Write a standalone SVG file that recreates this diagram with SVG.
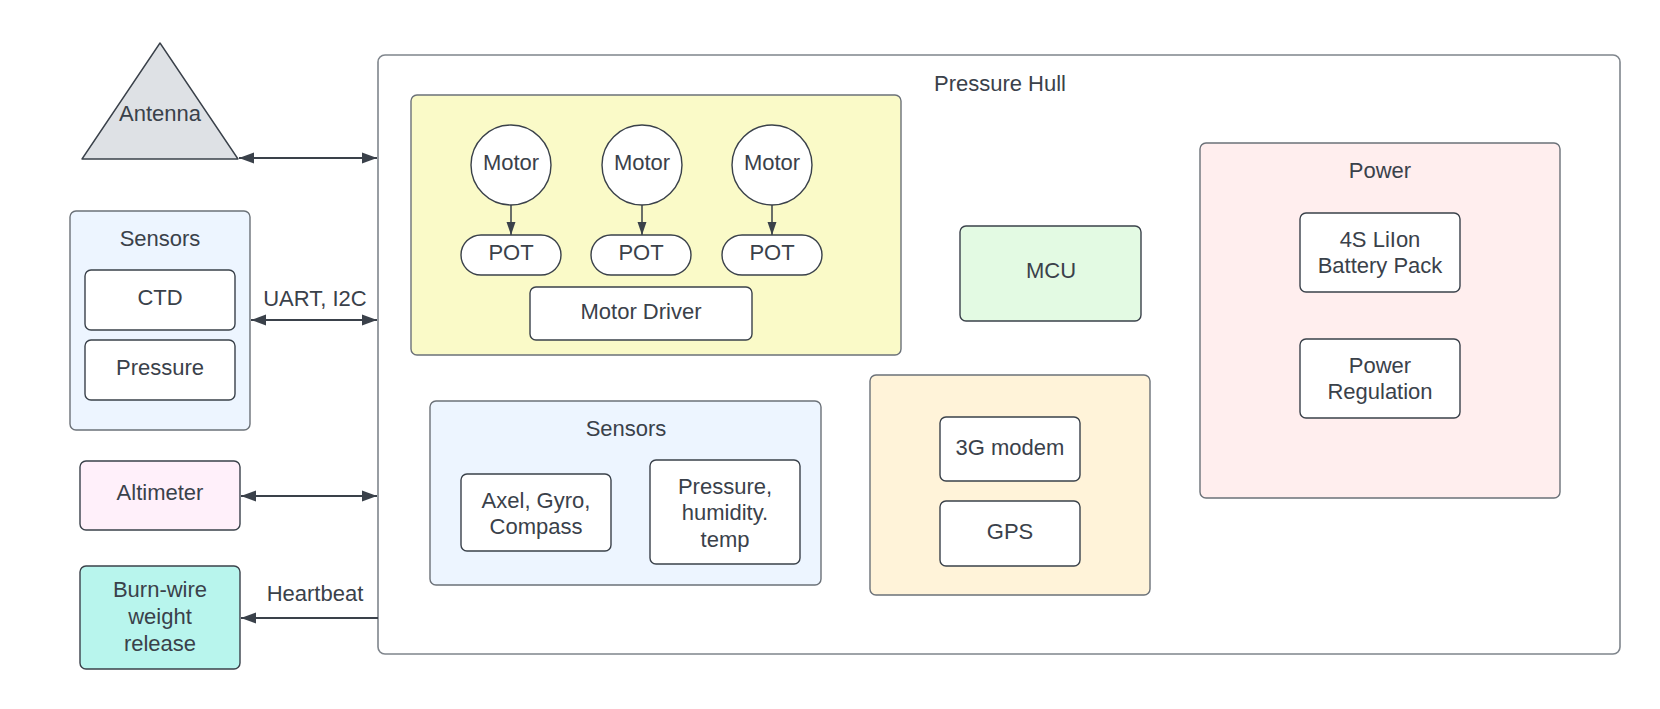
<svg xmlns="http://www.w3.org/2000/svg" width="1660" height="709" viewBox="0 0 1660 709">
<style>
text{font-family:"Liberation Sans",Arial,sans-serif;font-size:22px;fill:#3a414a;text-anchor:middle}
.box{stroke:#3a414a;stroke-width:1.4}
.cont{stroke:#6b7178;stroke-width:1.4}
.inner{fill:#ffffff;stroke:#3a414a;stroke-width:1.4}
.conn{stroke:#3a414a;stroke-width:2;fill:none}
.small{stroke:#3a414a;stroke-width:1.5;fill:none}
</style>
<defs>
<marker id="arr" markerUnits="userSpaceOnUse" markerWidth="16" markerHeight="12" refX="15" refY="5.5" orient="auto-start-reverse" viewBox="0 0 16 11">
<path d="M0,0 L15,5.5 L0,11 Z" fill="#3a414a"/>
</marker>
<marker id="arrs" markerUnits="userSpaceOnUse" markerWidth="14" markerHeight="10" refX="13" refY="4.5" orient="auto" viewBox="0 0 14 9">
<path d="M0,0 L13,4.5 L0,9 Z" fill="#3a414a"/>
</marker>
</defs>
<rect width="1660" height="709" fill="#ffffff"/>

<g id="pressure-hull">
<rect x="378" y="55" width="1242" height="599" rx="7" fill="#ffffff" stroke="#7f858c" stroke-width="1.6"/>
<text x="1000" y="91">Pressure Hull</text>
</g>

<g id="antenna">
<path d="M160,43 L238,159 L82,159 Z" fill="#dee1e5" stroke="#3a414a" stroke-width="1.4" stroke-linejoin="round"/>
<text x="160" y="121">Antenna</text>
</g>

<g id="sensors-ext">
<rect x="70" y="211" width="180" height="219" rx="6" fill="#edf5ff" class="cont"/>
<text x="160" y="246">Sensors</text>
<g id="ctd">
<rect x="85" y="270" width="150" height="60" rx="6" class="inner"/>
<text x="160" y="305">CTD</text>
</g>
<g id="pressure-ext">
<rect x="85" y="340" width="150" height="60" rx="6" class="inner"/>
<text x="160" y="375">Pressure</text>
</g>
</g>

<g id="altimeter">
<rect x="80" y="461" width="160" height="69" rx="6" fill="#fff0fa" class="box"/>
<text x="160" y="500">Altimeter</text>
</g>

<g id="burnwire">
<rect x="80" y="566" width="160" height="103" rx="6" fill="#b8f5ed" class="box"/>
<text x="160" y="597">Burn-wire</text>
<text x="160" y="624">weight</text>
<text x="160" y="651">release</text>
</g>

<g id="motors-group">
<rect x="411" y="95" width="490" height="260" rx="6" fill="#fafac8" class="cont"/>
<g id="motor1"><circle cx="511" cy="165" r="40" fill="#ffffff" stroke="#3a414a" stroke-width="1.4"/><text x="511" y="170">Motor</text></g>
<g id="motor2"><circle cx="642" cy="165" r="40" fill="#ffffff" stroke="#3a414a" stroke-width="1.4"/><text x="642" y="170">Motor</text></g>
<g id="motor3"><circle cx="772" cy="165" r="40" fill="#ffffff" stroke="#3a414a" stroke-width="1.4"/><text x="772" y="170">Motor</text></g>
<g id="pot1"><rect x="461" y="235" width="100" height="40" rx="20" class="inner"/><text x="511" y="260">POT</text></g>
<g id="pot2"><rect x="591" y="235" width="100" height="40" rx="20" class="inner"/><text x="641" y="260">POT</text></g>
<g id="pot3"><rect x="722" y="235" width="100" height="40" rx="20" class="inner"/><text x="772" y="260">POT</text></g>
<g id="motor-driver"><rect x="530" y="287" width="222" height="53" rx="6" class="inner"/><text x="641" y="319">Motor Driver</text></g>
</g>

<g id="mcu">
<rect x="960" y="226" width="181" height="95" rx="6" fill="#e3fae3" class="box"/>
<text x="1051" y="278">MCU</text>
</g>

<g id="sensors-int">
<rect x="430" y="401" width="391" height="184" rx="6" fill="#edf5ff" class="cont"/>
<text x="626" y="436">Sensors</text>
<g id="imu"><rect x="461" y="474" width="150" height="77" rx="6" class="inner"/><text x="536" y="508">Axel, Gyro,</text><text x="536" y="534">Compass</text></g>
<g id="env"><rect x="650" y="460" width="150" height="104" rx="6" class="inner"/><text x="725" y="494">Pressure,</text><text x="725" y="520">humidity.</text><text x="725" y="547">temp</text></g>
</g>

<g id="comms">
<rect x="870" y="375" width="280" height="220" rx="6" fill="#fff3d9" class="cont"/>
<g id="modem"><rect x="940" y="417" width="140" height="64" rx="6" class="inner"/><text x="1010" y="455">3G modem</text></g>
<g id="gps"><rect x="940" y="501" width="140" height="65" rx="6" class="inner"/><text x="1010" y="539">GPS</text></g>
</g>

<g id="power">
<rect x="1200" y="143" width="360" height="355" rx="6" fill="#ffeeee" class="cont"/>
<text x="1380" y="178">Power</text>
<g id="battery"><rect x="1300" y="213" width="160" height="79" rx="6" class="inner"/><text x="1380" y="247">4S LiIon</text><text x="1380" y="273">Battery Pack</text></g>
<g id="regulation"><rect x="1300" y="339" width="160" height="79" rx="6" class="inner"/><text x="1380" y="373">Power</text><text x="1380" y="399">Regulation</text></g>
</g>

<g id="connectors">
<line x1="239" y1="158" x2="377" y2="158" class="conn" marker-start="url(#arr)" marker-end="url(#arr)"/>
<line x1="251" y1="320" x2="377" y2="320" class="conn" marker-start="url(#arr)" marker-end="url(#arr)"/>
<text x="315" y="306">UART, I2C</text>
<line x1="241" y1="496" x2="377" y2="496" class="conn" marker-start="url(#arr)" marker-end="url(#arr)"/>
<line x1="378" y1="618" x2="241" y2="618" class="conn" marker-end="url(#arr)"/>
<text x="315" y="601">Heartbeat</text>
<line x1="511" y1="205" x2="511" y2="235" class="small" marker-end="url(#arrs)"/>
<line x1="642" y1="205" x2="642" y2="235" class="small" marker-end="url(#arrs)"/>
<line x1="772" y1="205" x2="772" y2="235" class="small" marker-end="url(#arrs)"/>
</g>
</svg>
